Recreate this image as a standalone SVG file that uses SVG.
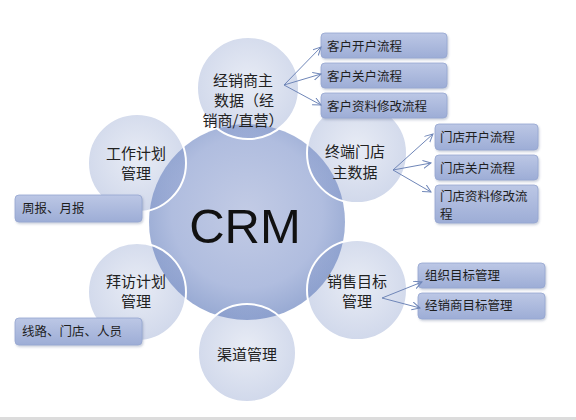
<svg xmlns="http://www.w3.org/2000/svg" width="576" height="420" viewBox="0 0 576 420">
<defs>
<radialGradient id="gBig" cx="50%" cy="45%" r="55%">
<stop offset="0" stop-color="#c2cbe5"/>
<stop offset="0.7" stop-color="#b0bddf"/>
<stop offset="1" stop-color="#98aad3"/>
</radialGradient>
<radialGradient id="gSat" cx="50%" cy="45%" r="55%">
<stop offset="0" stop-color="#6e86c0" stop-opacity="0.16"/>
<stop offset="1" stop-color="#6e86c0" stop-opacity="0.32"/>
</radialGradient>
<linearGradient id="gBox" x1="0" y1="0" x2="0" y2="1">
<stop offset="0" stop-color="#bcc7e5"/>
<stop offset="1" stop-color="#9dadd6"/>
</linearGradient>
<filter id="sh" x="-10%" y="-20%" width="130%" height="160%">
<feDropShadow dx="1" dy="1.5" stdDeviation="1.2" flood-color="#5a6a90" flood-opacity="0.35"/>
</filter>
<marker id="arr" markerWidth="10" markerHeight="10" refX="8" refY="4" orient="auto" markerUnits="userSpaceOnUse">
<path d="M0,0 L8,4 L0,8" fill="none" stroke="#6f86b8" stroke-width="1"/>
</marker>
</defs>
<style>
.sat{fill:url(#gSat);stroke:#ffffff;stroke-width:2}
.box{fill:url(#gBox);stroke:#95a6d0;stroke-width:0.8;filter:url(#sh)}
.st{font-family:"Noto Sans CJK SC","Liberation Sans",sans-serif;font-size:15px;fill:#222;text-anchor:middle}
.bt{font-family:"Noto Sans CJK SC","Liberation Sans",sans-serif;font-size:12.5px;fill:#1e1e1e}
.cn{stroke:#6f86b8;stroke-width:1;fill:none;marker-end:url(#arr)}
</style>
<rect width="576" height="420" fill="#ffffff"/>
<rect x="0" y="417" width="576" height="3" fill="#dcdcdc"/>

<g id="crm">
<circle cx="247" cy="222" r="98" fill="url(#gBig)"/>
<text x="245" y="243" font-family="Liberation Sans,Arial,sans-serif" font-size="49" fill="#111" text-anchor="middle">CRM</text>
</g>

<g id="node-dealer">
<circle class="sat" cx="248" cy="88" r="51"/>
<text class="st" x="243" y="86">经销商主</text>
<text class="st" x="244" y="106">数据（经</text>
<text class="st" x="243" y="126">销商/直营）</text>
</g>

<g id="node-store">
<circle class="sat" cx="357" cy="153" r="50"/>
<text class="st" x="355" y="157">终端门店</text>
<text class="st" x="355" y="178">主数据</text>
</g>

<g id="node-workplan">
<circle class="sat" cx="137" cy="163" r="49"/>
<text class="st" x="136" y="159">工作计划</text>
<text class="st" x="136" y="179">管理</text>
</g>

<g id="node-visit">
<circle class="sat" cx="137" cy="292" r="49"/>
<text class="st" x="136" y="287">拜访计划</text>
<text class="st" x="136" y="307">管理</text>
</g>

<g id="node-sales">
<circle class="sat" cx="357" cy="290" r="50"/>
<text class="st" x="357" y="287">销售目标</text>
<text class="st" x="357" y="307">管理</text>
</g>

<g id="node-channel">
<circle class="sat" cx="247" cy="353" r="49"/>
<text class="st" x="247" y="360">渠道管理</text>
</g>

<g id="box-kh-open"><rect class="box" x="321" y="33" width="126" height="25" rx="4"/><text class="bt" x="327" y="51">客户开户流程</text></g>
<g id="box-kh-close"><rect class="box" x="321" y="63" width="126" height="25" rx="4"/><text class="bt" x="327" y="81">客户关户流程</text></g>
<g id="box-kh-edit"><rect class="box" x="321" y="93" width="126" height="25" rx="4"/><text class="bt" x="327" y="111">客户资料修改流程</text></g>

<g id="box-md-open"><rect class="box" x="435" y="124" width="103" height="26" rx="4"/><text class="bt" x="440" y="142">门店开户流程</text></g>
<g id="box-md-close"><rect class="box" x="435" y="155" width="103" height="25" rx="4"/><text class="bt" x="440" y="173">门店关户流程</text></g>
<g id="box-md-edit"><rect class="box" x="435" y="185" width="103" height="38" rx="4"/><text class="bt" font-size="12" x="440" y="201">门店资料修改流</text><text class="bt" font-size="12" x="440" y="219">程</text></g>

<g id="box-report"><rect class="box" x="15" y="195" width="127" height="27" rx="4"/><text class="bt" x="22" y="213">周报、月报</text></g>
<g id="box-route"><rect class="box" x="15" y="318" width="127" height="27" rx="4"/><text class="bt" x="22" y="336">线路、门店、人员</text></g>

<g id="box-org"><rect class="box" x="418" y="263" width="127" height="25" rx="4"/><text class="bt" x="425" y="280">组织目标管理</text></g>
<g id="box-dealer-target"><rect class="box" x="418" y="293" width="127" height="26" rx="4"/><text class="bt" x="425" y="310">经销商目标管理</text></g>

<g id="connectors">
<path class="cn" d="M284,85 L321,47"/>
<path class="cn" d="M284,85 L321,74"/>
<path class="cn" d="M284,85 L321,105"/>
<path class="cn" d="M393,170 L433,134"/>
<path class="cn" d="M393,170 L431,163"/>
<path class="cn" d="M393,170 L431,192"/>
<path class="cn" d="M382,298 L422,282"/>
<path class="cn" d="M382,298 L420,308"/>
</g>
</svg>
